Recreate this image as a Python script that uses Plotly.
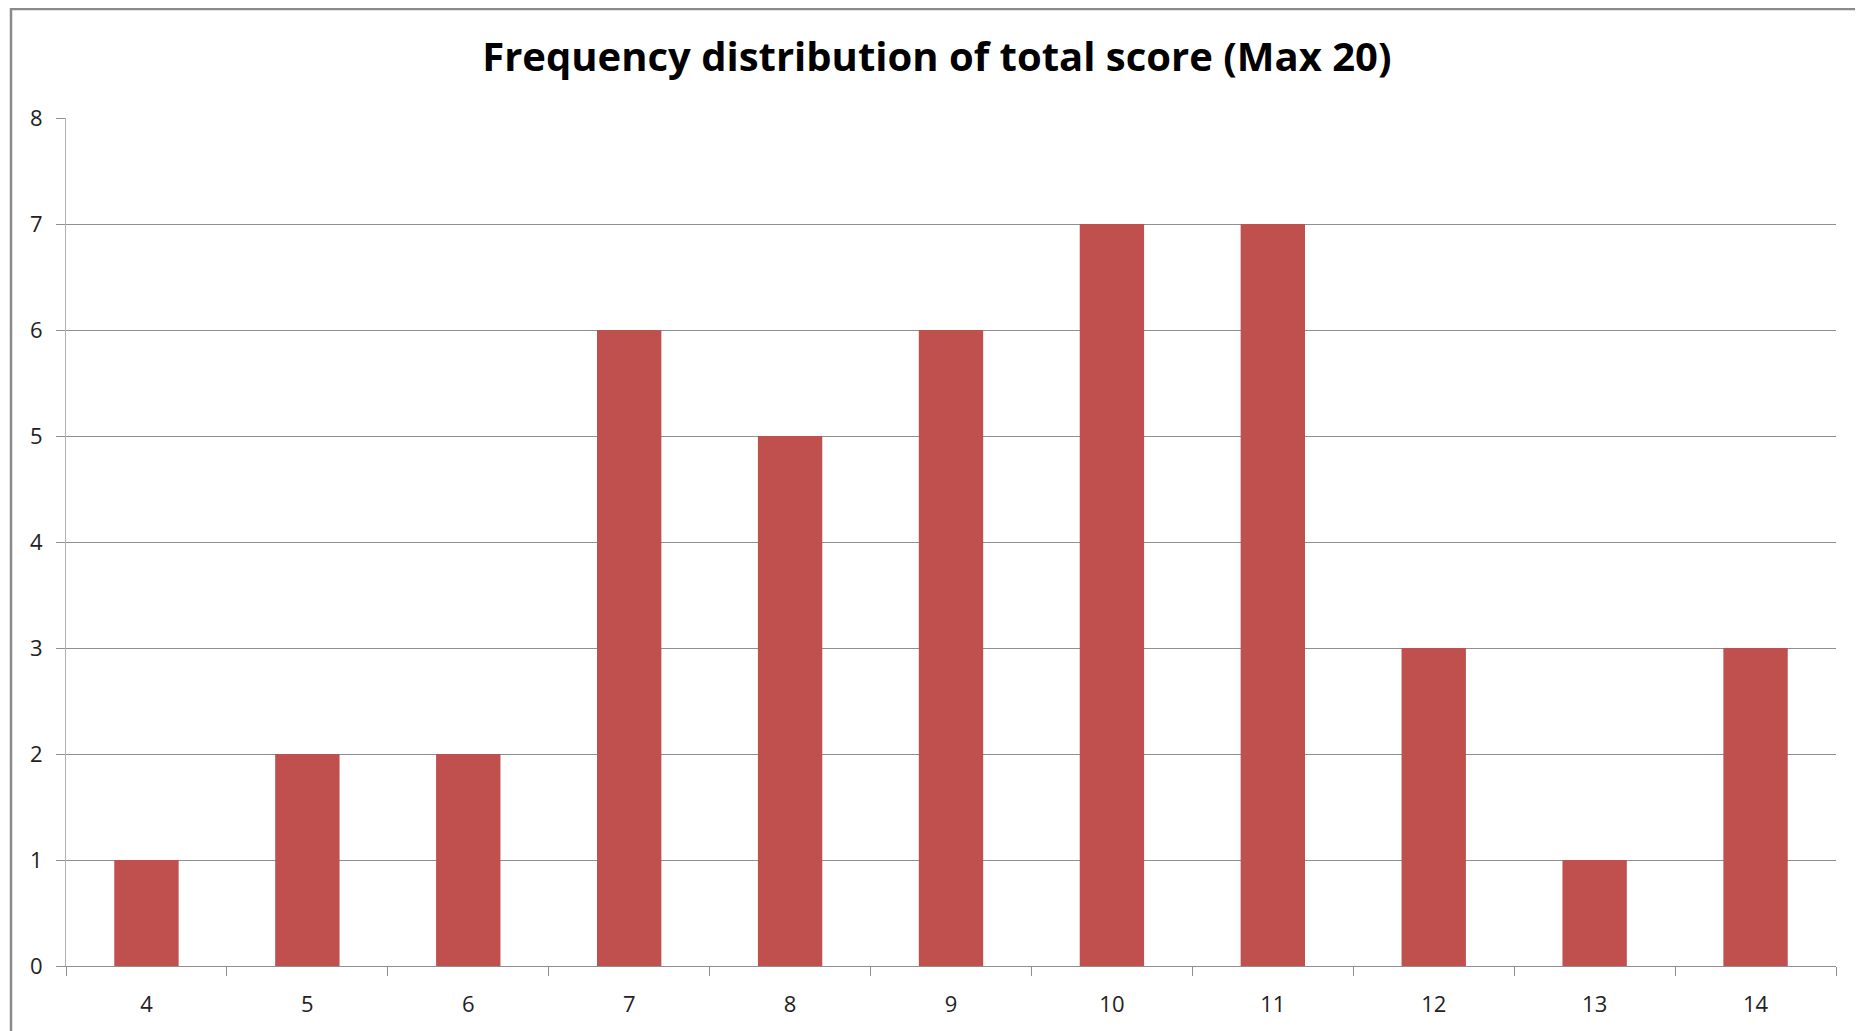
import plotly.graph_objects as go

# score values (categories) and number of students
scores = ['4', '5', '6', '7', '8', '9', '10', '11', '12', '13', '14']
counts = [1, 2, 2, 6, 5, 6, 7, 7, 3, 1, 3]
y_ticks = [0, 1, 2, 3, 4, 5, 6, 7, 8]

W, H = 1863, 1031
# page body adds an 8px offset, margins are set against that
ml, mr, mt, mb = 58, 35, 110, 73
pw, ph = W - ml - mr, H - mt - mb

fig = go.Figure()
fig.add_trace(go.Bar(x=scores, y=counts, marker=dict(color='#C0504D', line=dict(width=0)),
                     name='Frequency'))

# outer chart frame (cut off on right/bottom like the screenshot)
fig.add_shape(type='rect', xref='paper', yref='paper',
              x0=(3 - ml) / pw, x1=1.2, y0=-0.3, y1=1 + (mt - 1) / ph,
              line=dict(color='#8a8a8a', width=2.5), fillcolor='rgba(0,0,0,0)', layer='below')

fig.update_layout(
    width=W, height=H,
    margin=dict(l=ml, r=mr, t=mt, b=mb),
    paper_bgcolor='white', plot_bgcolor='white',
    title=dict(text='<b>Frequency distribution of total score (Max 20)</b>',
               x=0.492, xref='paper', xanchor='center', y=1 - 49 / H, yanchor='middle',
               font=dict(family='Open Sans', size=40, color='black')),
    bargap=0.6,
    showlegend=False,
    font=dict(family='Open Sans', size=22, color='#222222'),
    xaxis=dict(type='category', showline=True, linecolor='#8f8f8f', linewidth=1,
               ticks='outside', ticklen=9, tickcolor='#8f8f8f', tickson='boundaries',
               ticklabelstandoff=19, showgrid=False, zeroline=False),
    yaxis=dict(range=[0, 8], tickvals=y_ticks, showline=True, linecolor='#b0b0b0', linewidth=1,
               ticks='outside', ticklen=9, tickcolor='#8f8f8f', ticklabelstandoff=9,
               showgrid=True, gridcolor='#8f8f8f', gridwidth=1, zeroline=False),
)

fig.write_html('out.html')
